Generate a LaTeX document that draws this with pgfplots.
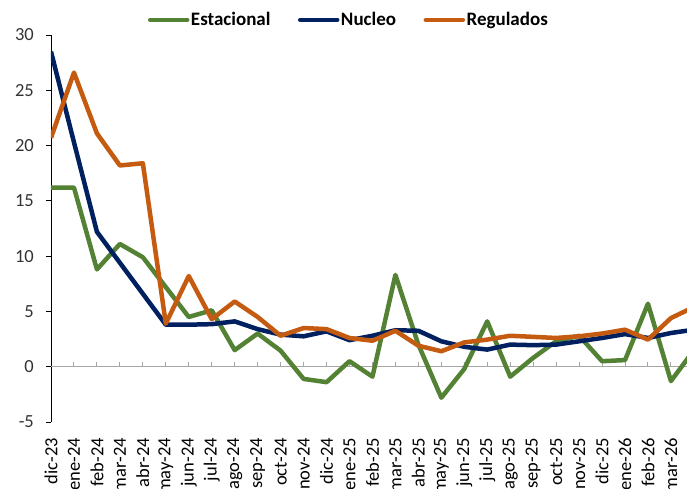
\documentclass[border=0pt]{standalone}
\usepackage{pgfplots}
\pgfplotsset{compat=1.18}
\usepackage{fontspec}
\setmainfont{Carlito}

\definecolor{estac}{HTML}{548235}
\definecolor{nucleo}{HTML}{002060}
\definecolor{regul}{HTML}{C55A11}
\definecolor{zeroln}{HTML}{A6A6A6}

% monthly series, index 0 = dic-23 (last point is cut off at the right edge)
\pgfplotstableread{
x est nuc reg
0 16.2 28.5 20.7
1 16.2 20.3 26.6
2 8.8 12.2 21.1
3 11.1 9.4 18.2
4 9.9 6.6 18.4
5 7.2 3.8 3.9
6 4.5 3.8 8.2
7 5.1 3.85 4.3
8 1.5 4.1 5.9
9 3.0 3.4 4.5
10 1.45 2.9 2.8
11 -1.1 2.75 3.5
12 -1.4 3.2 3.4
13 0.5 2.4 2.6
14 -0.9 2.8 2.35
15 8.3 3.3 3.25
16 2.0 3.25 1.9
17 -2.8 2.3 1.4
18 -0.2 1.8 2.2
19 4.1 1.55 2.45
20 -0.9 2.0 2.8
21 0.8 1.95 2.7
22 2.3 2.0 2.6
23 2.8 2.3 2.75
24 0.5 2.6 3.0
25 0.6 2.95 3.35
26 5.7 2.6 2.45
27 -1.3 3.05 4.4
28 1.5 3.35 5.4
}\datos

\begin{document}
\begin{tikzpicture}
\path[use as bounding box] (-51pt,-66pt) rectangle (636pt,422pt);
\begin{axis}[
    at={(0pt,0pt)}, anchor=south west,
    scale only axis, width=636pt, height=387pt,
    xmin=0, xmax=27.7, ymin=-5, ymax=30,
    axis x line*=bottom, axis y line*=left,
    x axis line style={draw=none},
    y axis line style={black, line width=0.8pt, -},
    xtick={0,...,27},
    xticklabels={dic-23,ene-24,feb-24,mar-24,abr-24,may-24,jun-24,jul-24,ago-24,sep-24,oct-24,nov-24,dic-24,ene-25,feb-25,mar-25,abr-25,may-25,jun-25,jul-25,ago-25,sep-25,oct-25,nov-25,dic-25,ene-26,feb-26,mar-26},
    xtick style={draw=none},
    ytick={-5,0,5,10,15,20,25,30},
    ytick style={black, line width=0.8pt},
    tick align=outside,
    major tick length=5pt,
    /pgf/number format/assume math mode=true,
    xticklabel style={rotate=90, anchor=east, inner sep=0pt, text=black,
        font=\fontsize{18.5}{20}\selectfont},
    xticklabel shift=11pt,
    yticklabel style={inner sep=0pt, text=black!80,
        font=\fontsize{18.5}{20}\selectfont},
    yticklabel shift=12pt,
    legend columns=3,
    legend style={draw=none, fill=none,
        at={(axis description cs:0.468,1.039)}, anchor=center,
        font=\bfseries\fontsize{19}{21}\selectfont,
        nodes={inner sep=1.5pt},
        /tikz/every even column/.append style={column sep=26pt}},
    legend image code/.code={\draw[#1, line width=4.5pt, line cap=round] (0pt,0pt) -- (37pt,0pt);},
    every axis plot/.append style={line width=4.5pt, line join=round},
]
\draw[zeroln, line width=1.3pt] (axis cs:0,0) -- (axis cs:27.7,0);
\pgfplotsinvokeforeach{1,...,27}{\draw[zeroln, line width=1pt] (axis cs:#1,0) -- ++(0pt,5pt);}
\addplot[estac] table[x=x, y=est] {\datos};
\addlegendentry{Estacional}
\addplot[nucleo] table[x=x, y=nuc] {\datos};
\addlegendentry{Nucleo}
\addplot[regul] table[x=x, y=reg] {\datos};
\addlegendentry{Regulados}
\end{axis}
\end{tikzpicture}
\end{document}
